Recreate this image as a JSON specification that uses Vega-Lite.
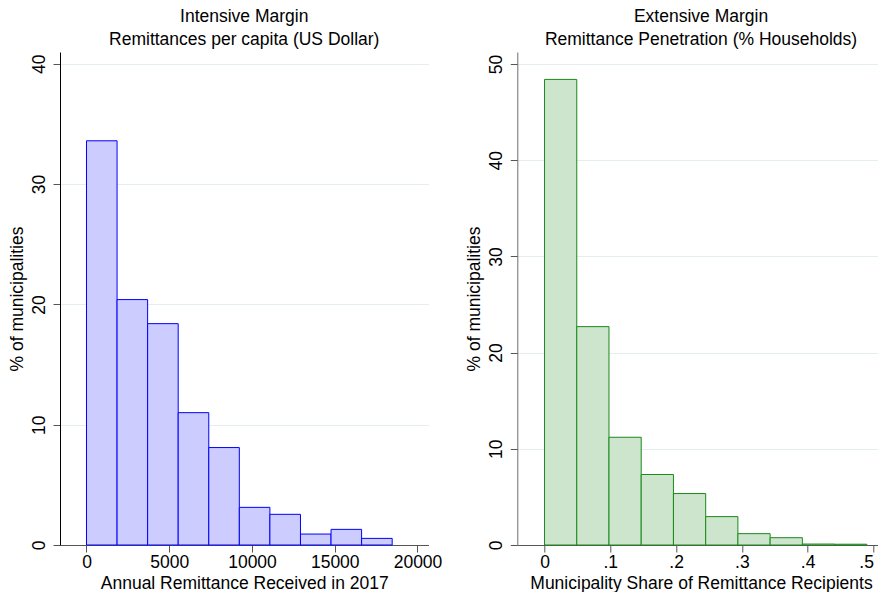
{
  "$schema": "https://vega.github.io/schema/vega-lite/v6.json",
  "background": "white",
  "padding": {"left": 8, "top": 7, "right": 0, "bottom": 0},
  "bounds": "flush",
  "spacing": 88.3,
  "config": {
    "view": {"stroke": null},
    "font": "Liberation Sans",
    "axis": {"labelColor": "black", "titleColor": "black", "labelFontSize": 17.5, "titleFontSize": 17.5, "titleFontWeight": "normal", "tickSize": 7, "tickColor": "#555555", "gridColor": "#e4edf0", "gridWidth": 1}
  },
  "hconcat": [
    {
      "width": 368.5,
      "height": 493,
      "title": {"text": ["Intensive Margin", "Remittances per capita (US Dollar)"], "fontSize": 17.5, "fontWeight": "normal", "color": "black", "lineHeight": 23, "anchor": "middle", "baseline": "alphabetic", "offset": -10},
      "data": {"values": [
        {"lo": 0, "hi": 1847, "pct": 33.6},
        {"lo": 1847, "hi": 3694, "pct": 20.4},
        {"lo": 3694, "hi": 5541, "pct": 18.4},
        {"lo": 5541, "hi": 7388, "pct": 11.0},
        {"lo": 7388, "hi": 9235, "pct": 8.1},
        {"lo": 9235, "hi": 11082, "pct": 3.13},
        {"lo": 11082, "hi": 12929, "pct": 2.55},
        {"lo": 12929, "hi": 14776, "pct": 0.91},
        {"lo": 14776, "hi": 16623, "pct": 1.3},
        {"lo": 16623, "hi": 18470, "pct": 0.55}
      ]},
      "mark": {"type": "rect", "fill": "#ccccff", "stroke": "#0000ff", "strokeWidth": 1},
      "encoding": {
        "x": {"field": "lo", "type": "quantitative", "scale": {"domain": [-1601, 20665], "nice": false, "zero": false},
          "axis": {"values": [0, 5000, 10000, 15000, 20000], "format": "d", "grid": false, "domainColor": "#555555", "labelBaseline": "alphabetic", "labelPadding": 15.5, "labelFlush": false, "title": "Annual Remittance Received in 2017", "titleBaseline": "alphabetic", "titleY": 43}},
        "x2": {"field": "hi"},
        "y": {"field": "pct", "type": "quantitative", "scale": {"domain": [0, 40.98], "nice": false},
          "axis": {"values": [0, 10, 20, 30, 40], "grid": true, "domainColor": "black", "labelAngle": -90, "labelAlign": "center", "labelBaseline": "alphabetic", "labelPadding": 8.5, "title": "% of municipalities", "titleAngle": -90, "titleAlign": "center", "titleBaseline": "alphabetic", "titleX": -38, "titleY": 246.5}},
        "y2": {"datum": 0}
      }
    },
    {
      "width": 360.7,
      "height": 493,
      "title": {"text": ["Extensive Margin", "Remittance Penetration (% Households)"], "fontSize": 17.5, "fontWeight": "normal", "color": "black", "lineHeight": 23, "anchor": "middle", "baseline": "alphabetic", "offset": -10, "dx": 3.4},
      "data": {"values": [
        {"lo": 0, "hi": 0.049, "pct": 48.4},
        {"lo": 0.049, "hi": 0.098, "pct": 22.7},
        {"lo": 0.098, "hi": 0.147, "pct": 11.2},
        {"lo": 0.147, "hi": 0.196, "pct": 7.33},
        {"lo": 0.196, "hi": 0.245, "pct": 5.35},
        {"lo": 0.245, "hi": 0.294, "pct": 2.95},
        {"lo": 0.294, "hi": 0.343, "pct": 1.18},
        {"lo": 0.343, "hi": 0.392, "pct": 0.76},
        {"lo": 0.392, "hi": 0.441, "pct": 0.1},
        {"lo": 0.441, "hi": 0.49, "pct": 0.08}
      ]},
      "mark": {"type": "rect", "fill": "#cce5cc", "stroke": "#1a8a1a", "strokeWidth": 1},
      "encoding": {
        "x": {"field": "lo", "type": "quantitative", "scale": {"domain": [-0.0414, 0.507], "nice": false, "zero": false},
          "axis": {"values": [0, 0.1, 0.2, 0.3, 0.4, 0.5], "labelExpr": "datum.value == 0 ? '0' : replace(format(datum.value, '.1f'), '0.', '.')", "grid": false, "domainColor": "#555555", "labelBaseline": "alphabetic", "labelPadding": 15.5, "labelFlush": 6, "title": "Municipality Share of Remittance Recipients", "titleBaseline": "alphabetic", "titleY": 43, "titleX": 183.7}},
        "x2": {"field": "hi"},
        "y": {"field": "pct", "type": "quantitative", "scale": {"domain": [0, 51.25], "nice": false},
          "axis": {"values": [0, 10, 20, 30, 40, 50], "grid": true, "domainColor": "#6e6e6e", "labelAngle": -90, "labelAlign": "center", "labelBaseline": "alphabetic", "labelPadding": 9, "title": "% of municipalities", "titleAngle": -90, "titleAlign": "center", "titleBaseline": "alphabetic", "titleX": -37.5, "titleY": 246.5}},
        "y2": {"datum": 0}
      }
    }
  ]
}
